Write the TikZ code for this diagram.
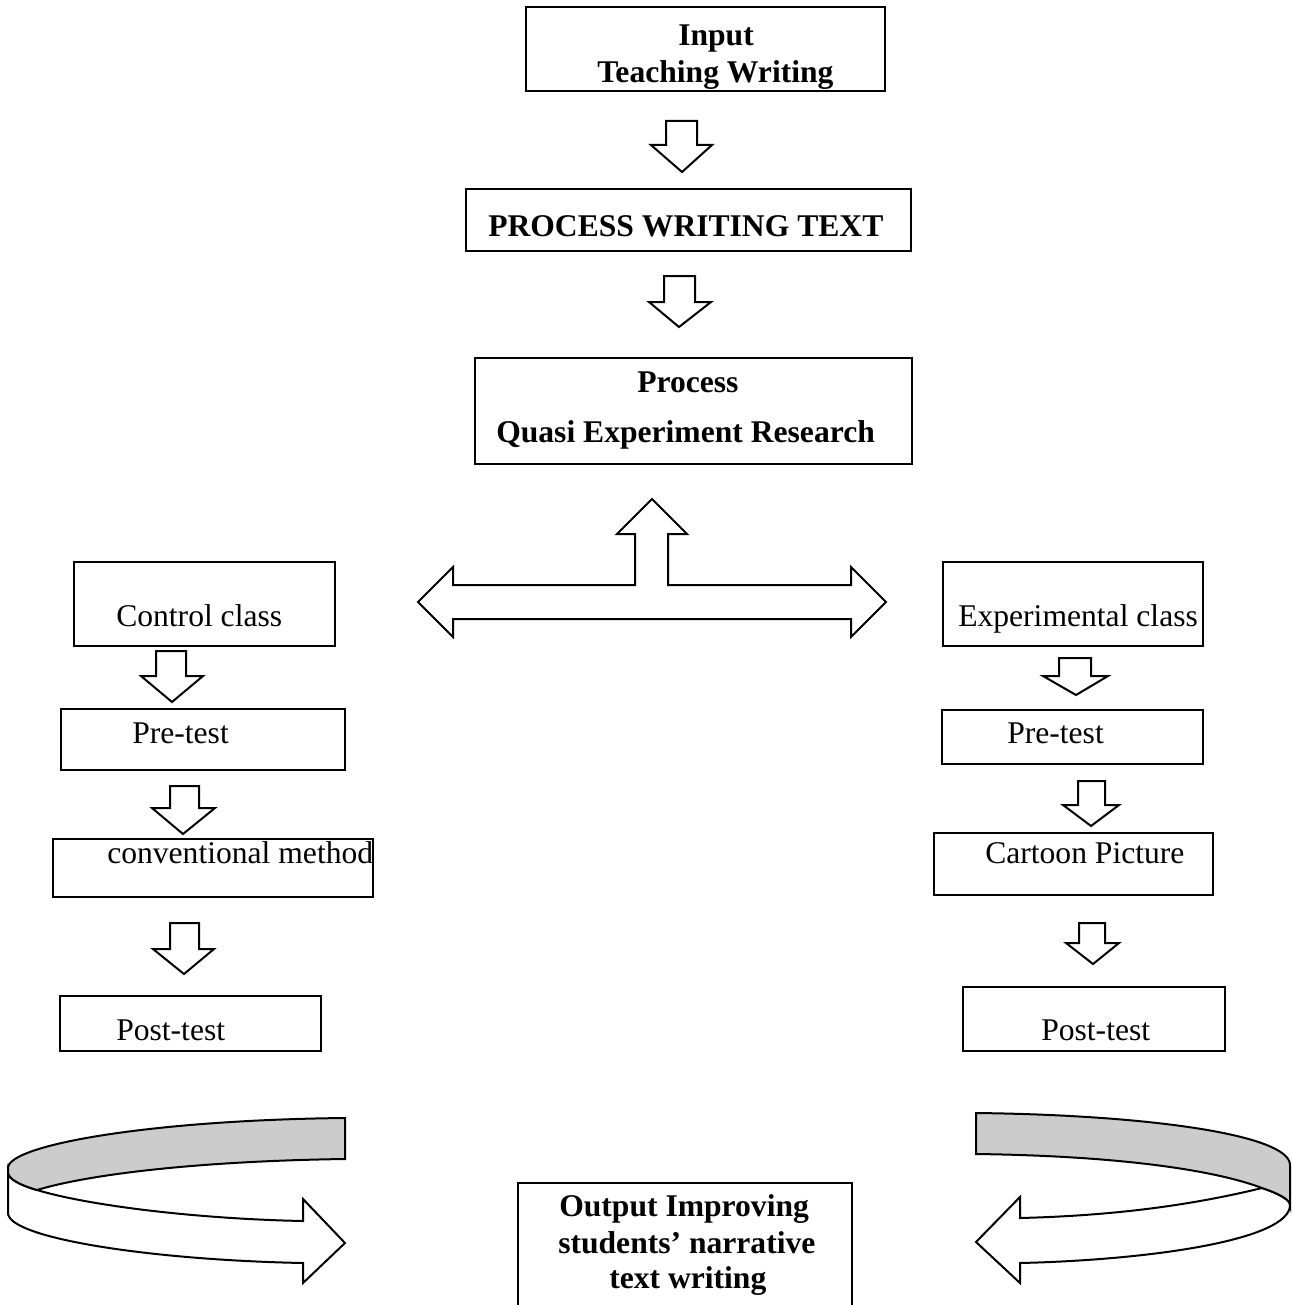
\documentclass[tikz,border=0pt]{standalone}
\usepackage{fontspec}
\setmainfont{Liberation Serif}
\usetikzlibrary{fit}
\definecolor{bandgray}{RGB}{204,204,204}
\tikzset{
  box/.style={draw=black, line width=1.7pt, inner sep=0pt, rectangle},
  lbl/.style={anchor=base west, inner sep=0pt, font=\fontsize{23.7pt}{28pt}\selectfont},
  blbl/.style={anchor=base west, inner sep=0pt, font=\fontsize{23.7pt}{28pt}\selectfont\bfseries},
  barrow/.style={draw=black, fill=white, line width=1.5pt, line join=miter},
  ribbon/.style={draw=black, line width=1.5pt, line join=miter},
}
\newcommand{\blockdown}[8]{%
  \draw[barrow] (#1,#3) -- (#2,#3) -- (#2,#4) -- (#6,#4) -- (#7,#8) -- (#5,#4) -- (#1,#4) -- cycle;}
\begin{document}
\begin{tikzpicture}[x=0.75pt,y=-0.75pt]
\useasboundingbox (0,0) rectangle (1291,1305);
\clip (0,0) rectangle (1291,1305);

% ---- boxes ----
\node[box, fit={(526,7) (885,91)}] (input) {};
\node[box, fit={(466,189) (911,251)}] (pwt) {};
\node[box, fit={(475,358) (912,464)}] (process) {};
\node[box, fit={(74,562) (335,646)}] (control) {};
\node[box, fit={(943,562) (1203,646)}] (exper) {};
\node[box, fit={(61,709) (345,770)}] (lpre) {};
\node[box, fit={(942,710) (1203,764)}] (rpre) {};
\node[box, fit={(53,839) (373,897)}] (conv) {};
\node[box, fit={(934,833) (1213,895)}] (cartoon) {};
\node[box, fit={(60,996) (321,1051)}] (lpost) {};
\node[box, fit={(963,987) (1225,1051)}] (rpost) {};
\node[box, fit={(518,1183) (852,1330)}] (output) {};

% ---- texts ----
\node[blbl] (t-input1) at (678,46) {Input};
\node[blbl] (t-input2) at (597,83) {Teaching Writing};
\node[blbl] (t-pwt) at (488,237) {PROCESS WRITING TEXT};
\node[blbl] (t-proc1) at (637,392) {Process};
\node[blbl] (t-proc2) at (496,442) {Quasi Experiment Research};
\node[lbl] (t-control) at (116,626) {Control class};
\node[lbl] (t-exper) at (958,626) {Experimental class};
\node[lbl] (t-lpre) at (132,743) {Pre-test};
\node[lbl] (t-rpre) at (1007,743) {Pre-test};
\node[lbl] (t-conv) at (107,863) {conventional method};
\node[lbl] (t-cartoon) at (985,863) {Cartoon Picture};
\node[lbl] (t-lpost) at (116,1040) {Post-test};
\node[lbl] (t-rpost) at (1041,1040) {Post-test};
\node[blbl] (t-out1) at (559,1216) {Output Improving};
\node[blbl] (t-out2) at (558,1253) {students’ narrative};
\node[blbl] (t-out3) at (609,1288) {text writing};

% ---- small down block arrows ----
\blockdown{666}{697}{121}{145}{651}{712}{682}{172}
\blockdown{664}{695}{276}{302}{649}{711}{679}{327}
\blockdown{156}{186}{651}{676}{141}{203}{172}{702}
\blockdown{170}{199}{786}{808}{152}{215}{183}{834}
\blockdown{170}{199}{923}{949}{153}{214}{184}{974}
\blockdown{1059}{1091}{658}{676}{1043}{1108}{1076}{695}
\blockdown{1078}{1105}{781}{805}{1063}{1119}{1091}{826}
\blockdown{1079}{1105}{923}{943}{1066}{1119}{1093}{964}

% ---- T-shaped three-way arrow ----
\draw[barrow] (635,534) -- (617,534) -- (652,499) -- (687,534) -- (668,534)
  -- (668,585) -- (851,585) -- (851,567) -- (886,602) -- (851,637) -- (851,619)
  -- (453,619) -- (453,637) -- (418,602) -- (453,567) -- (453,585) -- (635,585) -- cycle;

% ---- left curved ribbon arrow ----
\draw[ribbon, fill=white] (8,1172) -- (8,1213)
  .. controls (8,1238) and (150,1260) .. (303,1263)
  -- (303,1283) -- (345,1243) -- (303,1199) -- (303,1221)
  .. controls (200,1219) and (90,1206) .. (37,1190)
  .. controls (20,1185) and (8,1179) .. (8,1172) -- cycle;
\draw[ribbon, fill=bandgray] (345,1118)
  .. controls (150,1120) and (8,1145) .. (8,1168)
  -- (8,1172)
  .. controls (8,1179) and (20,1185) .. (37,1190)
  .. controls (90,1174) and (200,1161) .. (345,1159) -- cycle;

% ---- right curved ribbon arrow ----
\draw[ribbon, fill=white] (1290,1205)
  .. controls (1290,1240) and (1150,1260) .. (1020,1263)
  -- (1020,1283) -- (976,1242) -- (1020,1197) -- (1020,1218)
  .. controls (1100,1216) and (1180,1208) .. (1262,1188)
  .. controls (1280,1194) and (1290,1200) .. (1290,1205) -- cycle;
\draw[ribbon, fill=bandgray] (976,1113)
  .. controls (1150,1115) and (1290,1135) .. (1290,1165)
  -- (1290,1205)
  .. controls (1290,1200) and (1280,1194) .. (1262,1188)
  .. controls (1220,1172) and (1130,1156) .. (976,1154) -- cycle;
\end{tikzpicture}
\end{document}
